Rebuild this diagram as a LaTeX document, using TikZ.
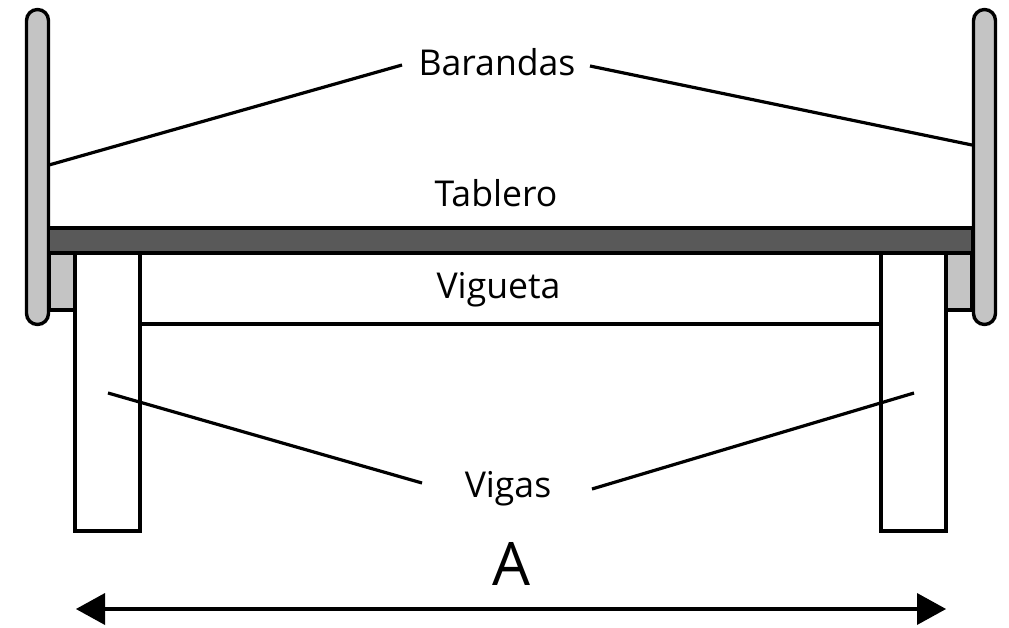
\documentclass[tikz,border=0pt]{standalone}
\usepackage{fontspec}
\setmainfont{Open Sans}
\definecolor{railgrey}{HTML}{C4C4C4}
\definecolor{deckgrey}{HTML}{595959}
\tikzset{
  part/.style={draw=black,line width=3.4pt,line join=miter,outer sep=0pt,inner sep=0pt,anchor=north west},
  leader/.style={draw=black,line width=3.2pt},
  lab/.style={font=\fontsize{35.6}{40}\selectfont,inner sep=0pt,text=black},
}
\begin{document}
\begin{tikzpicture}[x=1pt,y=-1pt]
\useasboundingbox (0,0) rectangle (1009,627);
% small grey blocks
\node[part,fill=railgrey,minimum width=26pt,minimum height=57pt] (blockL) at (49,253) {};
\node[part,fill=railgrey,minimum width=26pt,minimum height=57pt] (blockR) at (946,253) {};
% rails
\node[part,fill=railgrey,rounded corners=11pt,minimum width=22pt,minimum height=315pt] (railL) at (26.5,9.5) {};
\node[part,fill=railgrey,rounded corners=11pt,minimum width=22pt,minimum height=315pt] (railR) at (973.5,9.5) {};
% deck
\node[part,fill=deckgrey,minimum width=924.5pt,minimum height=25pt] (deck) at (48.5,228) {};
% beams
\node[part,fill=white,minimum width=65pt,minimum height=278pt] (beamL) at (75,253) {};
\node[part,fill=white,minimum width=65pt,minimum height=278pt] (beamR) at (881,253) {};
% labels
\node[lab] (barandas) at (497,62) {Barandas};
\node[lab] (tablero) at (496,193) {Tablero};
\node[lab] (vigueta) at (498.5,290) {Vigueta};
\node[lab] (vigas) at (508,489) {Vigas};
\node[font=\fontsize{60}{64}\selectfont,inner sep=0pt] (dimA) at (511,564) {A};
% free ends
\coordinate (bl1) at (49,165);
\coordinate (bl2) at (402,65);
\coordinate (br1) at (590,66);
\coordinate (br2) at (972,145);
\coordinate (vl1) at (108,393);
\coordinate (vl2) at (422,483);
\coordinate (vr1) at (914,393);
\coordinate (vr2) at (592,489);
\coordinate (joistL) at (140,324);
\coordinate (joistR) at (881,324);
\coordinate (arrL) at (76,609);
\coordinate (arrR) at (946,609);
\coordinate (arrLb) at (105,609);
\coordinate (arrRb) at (917,609);
\draw[leader] (bl1) -- (bl2);
\draw[leader] (br1) -- (br2);
\draw[leader] (vl1) -- (vl2);
\draw[leader] (vr1) -- (vr2);
\draw[leader] (joistL) -- (joistR);
\draw[leader] (arrLb) -- (arrRb);
\fill (arrL) -- (105,593) -- (105,625) -- cycle;
\fill (arrR) -- (917,593) -- (917,625) -- cycle;
\end{tikzpicture}
\end{document}
